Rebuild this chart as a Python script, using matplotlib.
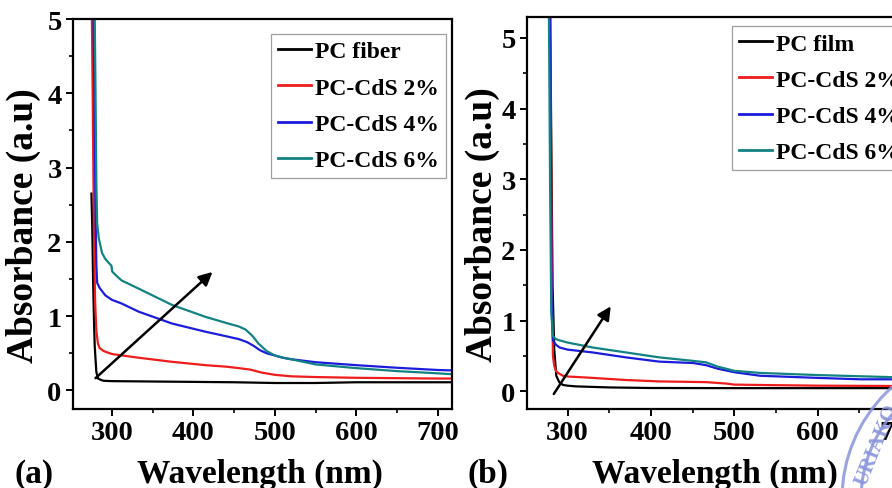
import matplotlib
matplotlib.use("Agg")
import matplotlib.pyplot as plt
from matplotlib.ticker import MultipleLocator
from matplotlib.patches import Circle

plt.rcParams['font.family'] = ['Liberation Serif', 'DejaVu Serif']
plt.rcParams['font.weight'] = 'bold'

# ---------------- data: panel (a) PC fiber ----------------
black_a_x = [275, 276, 277, 278, 279, 281, 283, 287, 290, 300, 350, 400, 450, 500, 550, 600, 650, 700, 715]
black_a_y = [2.65, 2.2, 1.5, 1.0, 0.6, 0.25, 0.16, 0.14, 0.13, 0.125, 0.12, 0.115, 0.11, 0.10, 0.10, 0.11, 0.11, 0.11, 0.11]

red_a_x = [275, 276.5, 278, 279.5, 281, 283, 285, 290, 300, 333, 374, 415, 440, 456, 470, 484, 500, 520, 550, 600, 650, 700, 715]
red_a_y = [5.6, 4.0, 2.2, 1.2, 0.8, 0.63, 0.57, 0.53, 0.49, 0.44, 0.385, 0.34, 0.32, 0.30, 0.28, 0.24, 0.21, 0.19, 0.18, 0.17, 0.165, 0.16, 0.16]

blue_a_x = [277, 278.5, 280, 281, 282, 285, 292, 300, 312, 333, 374, 415, 440, 456, 466, 474, 482, 490, 500, 510, 520, 550, 600, 650, 700, 715]
blue_a_y = [5.6, 4.0, 2.4, 1.7, 1.45, 1.38, 1.28, 1.22, 1.17, 1.06, 0.90, 0.79, 0.73, 0.69, 0.65, 0.60, 0.54, 0.50, 0.47, 0.44, 0.42, 0.38, 0.34, 0.305, 0.275, 0.27]

teal_a_x = [278.5, 280, 281, 282, 284, 288, 292, 296, 299.5, 300.5, 305, 312, 333, 374, 415, 443, 456, 464, 472, 480, 490, 500, 510, 520, 550, 600, 650, 700, 715]
teal_a_y = [5.6, 4.0, 2.8, 2.25, 2.05, 1.85, 1.77, 1.72, 1.68, 1.60, 1.55, 1.48, 1.37, 1.15, 0.99, 0.90, 0.86, 0.82, 0.74, 0.63, 0.53, 0.47, 0.44, 0.42, 0.35, 0.30, 0.26, 0.23, 0.22]

labels_a = ["PC fiber", "PC-CdS 2%", "PC-CdS 4%", "PC-CdS 6%"]
arrow_a = [(277.5, 0.14), (426.0, 1.62)]

# ---------------- data: panel (b) PC film ----------------
black_b_x = [279, 280.5, 282, 284, 286.5, 290, 294.5, 300, 310, 350, 400, 500, 600, 700, 717]
black_b_y = [5.6, 3.5, 1.5, 0.6, 0.22, 0.13, 0.09, 0.08, 0.07, 0.055, 0.047, 0.045, 0.045, 0.045, 0.045]

red_b_x = [279, 280.5, 281.5, 282.5, 284, 286.5, 290, 294.5, 300, 330, 370, 410, 466, 490, 500, 530, 600, 700, 717]
red_b_y = [5.6, 3.0, 1.2, 0.5, 0.36, 0.28, 0.25, 0.22, 0.21, 0.19, 0.16, 0.14, 0.13, 0.11, 0.095, 0.09, 0.08, 0.075, 0.075]

blue_b_x = [278.5, 280, 281, 282.5, 286, 290.4, 300, 330, 370, 410, 451, 466, 480, 500, 531, 600, 651, 700, 717]
blue_b_y = [5.6, 3.0, 1.2, 0.72, 0.66, 0.62, 0.59, 0.55, 0.48, 0.42, 0.40, 0.37, 0.32, 0.27, 0.22, 0.19, 0.17, 0.17, 0.17]

teal_b_x = [277.5, 279, 280.5, 282.5, 286, 290.4, 300, 330, 370, 410, 451, 466, 480, 500, 531, 600, 690, 717]
teal_b_y = [5.6, 3.0, 1.1, 0.78, 0.74, 0.72, 0.69, 0.62, 0.55, 0.48, 0.43, 0.41, 0.35, 0.29, 0.26, 0.23, 0.20, 0.20]

labels_b = ["PC film", "PC-CdS 2%", "PC-CdS 4%", "PC-CdS 6%"]
arrow_b = [(281.7, -0.07), (353.6, 1.235)]

x_ticks = [300, 400, 500, 600, 700]
y_ticks = [0, 1, 2, 3, 4, 5]

colors = ['#000000', '#ee1c1c', '#1c1cdc', '#138282']

W, H = 892, 489
fig = plt.figure(figsize=(W / 100, H / 100), dpi=100)


def px_axes(l, t, r, b):
    return [l / W, 1 - b / H, (r - l) / W, (b - t) / H]


ax_a = fig.add_axes(px_axes(72.7, 20, 451.7, 410))
ax_b = fig.add_axes(px_axes(526.7, 18.3, 915.3, 410))


def style(ax, xlim, ylim):
    ax.set_xlim(*xlim)
    ax.set_ylim(*ylim)
    ax.set_xticks(x_ticks)
    ax.set_yticks(y_ticks)
    ax.xaxis.set_minor_locator(MultipleLocator(50))
    ax.yaxis.set_minor_locator(MultipleLocator(0.5))
    ax.tick_params(which='major', direction='out', length=5, width=1.4,
                   labelsize=20.5, pad=3, top=False, right=False)
    ax.tick_params(which='minor', direction='out', length=3, width=1.2,
                   top=False, right=False)
    for lab in ax.get_xticklabels() + ax.get_yticklabels():
        lab.set_fontweight('bold')
    for sp in ax.spines.values():
        sp.set_linewidth(1.6)
    ax.set_xlabel("Wavelength (nm)", fontsize=24, fontweight='bold', va='baseline')
    ax.set_ylabel("Absorbance (a.u)", fontsize=27, fontweight='bold', va='center')


def legend(ax, loc, anchor):
    leg = ax.legend(loc=loc, bbox_to_anchor=anchor, borderaxespad=0,
                    fancybox=False, edgecolor='#888888', handlelength=1.4, handletextpad=0.15,
                    labelspacing=0.62, borderpad=0.3, prop={'size': 17, 'weight': 'bold'})
    leg.get_frame().set_linewidth(0.9)
    for ln in leg.get_lines():
        ln.set_linewidth(2.0)
    return leg


# panel a
series_a = [(black_a_x, black_a_y), (red_a_x, red_a_y), (blue_a_x, blue_a_y), (teal_a_x, teal_a_y)]
for (xs, ys), c, lab in zip(series_a, colors, labels_a):
    ax_a.plot(xs, ys, color=c, lw=1.6, label=lab)
style(ax_a, (252, 717), (-0.25, 5.0))
ax_a.xaxis.set_label_coords(0.494, -0.187)
ax_a.yaxis.set_label_coords(-0.131, 0.474)
ax_a.annotate('', xy=arrow_a[1], xytext=arrow_a[0],
              arrowprops=dict(arrowstyle='-|>', lw=1.8, color='k', mutation_scale=20))
legend(ax_a, 'upper right', (0.984, 0.962))

# panel b
series_b = [(black_b_x, black_b_y), (red_b_x, red_b_y), (blue_b_x, blue_b_y), (teal_b_x, teal_b_y)]
for (xs, ys), c, lab in zip(series_b, colors, labels_b):
    ax_b.plot(xs, ys, color=c, lw=1.6, label=lab)
style(ax_b, (251, 717), (-0.25, 5.29))
ax_b.xaxis.set_label_coords(0.485, -0.187)
ax_b.yaxis.set_label_coords(-0.115, 0.474)
ax_b.annotate('', xy=arrow_b[1], xytext=arrow_b[0],
              arrowprops=dict(arrowstyle='-|>', lw=1.8, color='k', mutation_scale=20))
legend(ax_b, 'upper left', (0.528, 0.978))

fig.text(15 / W, 1 - 483 / H, "(a)", fontsize=24, fontweight='bold', va='baseline', ha='left')
fig.text(468 / W, 1 - 483 / H, "(b)", fontsize=24, fontweight='bold', va='baseline', ha='left')

# partial stamp (watermark) in the bottom-right corner
stamp_col = '#8a94dc'
for r in (150, 131):
    fig.patches.append(Circle((992, H - 500), r, transform=None, fill=False,
                              edgecolor=stamp_col, lw=2.2, alpha=0.85, zorder=0.5))
fig.text(877 / W, 1 - 445 / H, "URIAKO", fontsize=15, color=stamp_col, rotation=68,
         ha='center', va='center', alpha=0.9)

fig.savefig("out.png", dpi=100)
